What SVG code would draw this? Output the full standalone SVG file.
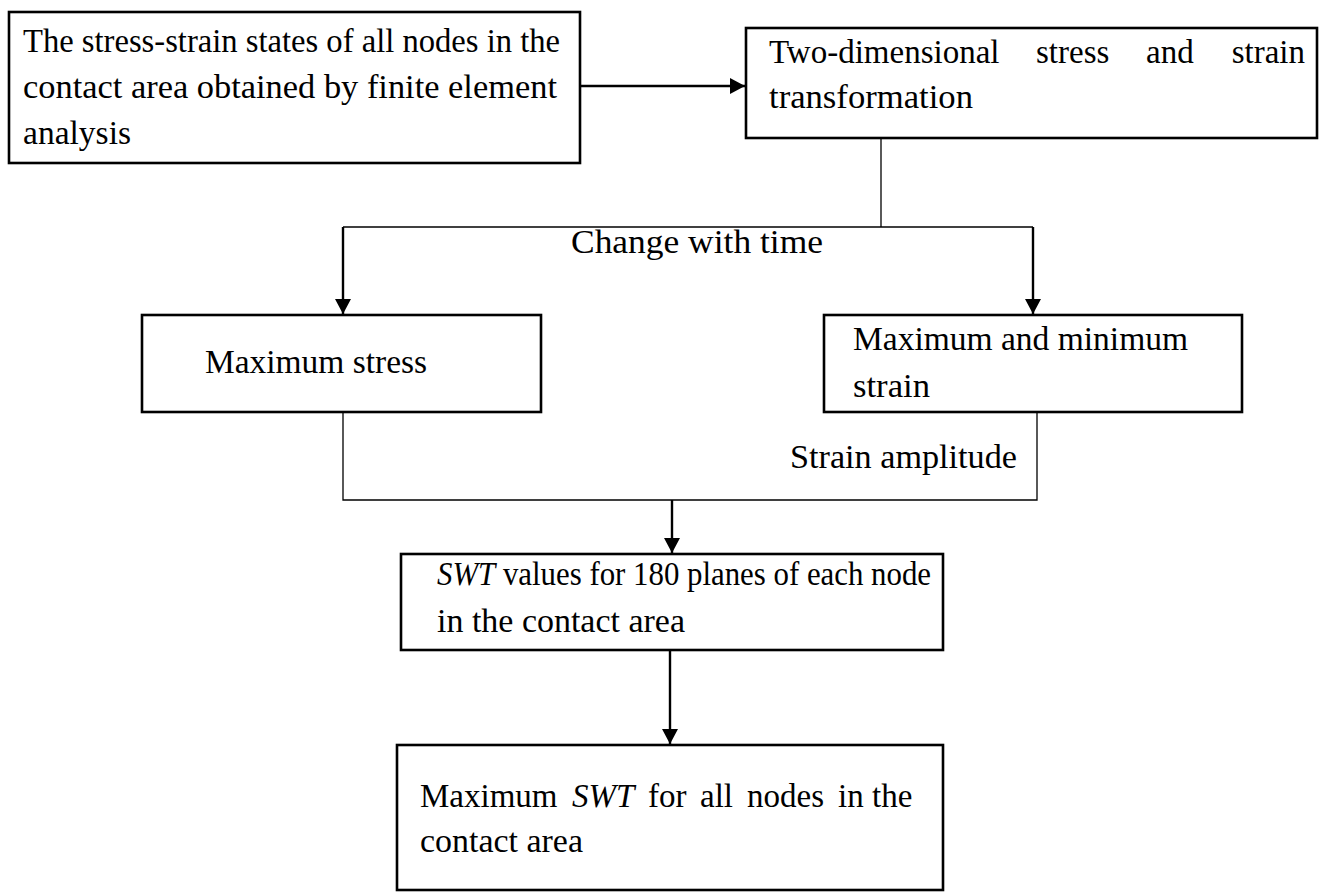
<svg xmlns="http://www.w3.org/2000/svg" width="1320" height="893" viewBox="0 0 1320 893">
<style>
.box{fill:#fff;stroke:#000;stroke-width:2.6}
.t{font-family:"Liberation Serif","Times New Roman",serif;font-size:33px;fill:#000}
.i{font-style:italic}
.thin{fill:none;stroke:#000;stroke-width:1.3}
.thick{fill:none;stroke:#000;stroke-width:2.4}
</style>
<defs>
<marker id="ah" markerUnits="userSpaceOnUse" markerWidth="16" markerHeight="18" refX="15" refY="8" orient="auto">
<path d="M0,0 L15,8 L0,16 z" fill="#000"/>
</marker>
</defs>
<rect width="1320" height="893" fill="#fff"/>
<g id="connectors">
<line class="thick" x1="580" y1="86" x2="745" y2="86" marker-end="url(#ah)"/>
<polyline class="thin" points="881,138 881,227"/>
<polyline class="thin" points="343,227 1033,227"/>
<line class="thick" x1="343" y1="227" x2="343" y2="314" marker-end="url(#ah)"/>
<line class="thick" x1="1033" y1="227" x2="1033" y2="314" marker-end="url(#ah)"/>
<polyline class="thin" points="343,412 343,500 1037,500 1037,412"/>
<line class="thick" x1="672" y1="500" x2="672" y2="553" marker-end="url(#ah)"/>
<line class="thick" x1="670" y1="651" x2="670" y2="744" marker-end="url(#ah)"/>
<text class="t" x="823" y="253" text-anchor="end" textLength="252" lengthAdjust="spacingAndGlyphs">Change with time</text>
<text class="t" x="790" y="468" textLength="227" lengthAdjust="spacingAndGlyphs">Strain amplitude</text>
</g>
<g id="n1">
<rect class="box" x="9" y="12" width="571" height="151"/>
<text class="t" x="23" y="52" textLength="537" lengthAdjust="spacingAndGlyphs">The stress-strain states of all nodes in the</text>
<text class="t" x="23" y="98" textLength="534" lengthAdjust="spacingAndGlyphs">contact area  obtained by  finite element</text>
<text class="t" x="23" y="144" textLength="108" lengthAdjust="spacingAndGlyphs">analysis</text>
</g>
<g id="n2">
<rect class="box" x="746" y="28" width="571" height="110"/>
<text class="t" x="769" y="63">Two-dimensional</text>
<text class="t" x="1036" y="63">stress</text>
<text class="t" x="1146" y="63">and</text>
<text class="t" x="1305" y="63" text-anchor="end">strain</text>
<text class="t" x="769" y="108" textLength="204" lengthAdjust="spacingAndGlyphs">transformation</text>
</g>
<g id="n3">
<rect class="box" x="142" y="315" width="399" height="97"/>
<text class="t" x="205" y="373" textLength="222" lengthAdjust="spacingAndGlyphs">Maximum stress</text>
</g>
<g id="n4">
<rect class="box" x="824" y="315" width="418" height="97"/>
<text class="t" x="853" y="350" textLength="335" lengthAdjust="spacingAndGlyphs">Maximum and minimum</text>
<text class="t" x="853" y="397" textLength="77" lengthAdjust="spacingAndGlyphs">strain</text>
</g>
<g id="n5">
<rect class="box" x="401" y="554" width="542" height="96"/>
<text class="t" x="437" y="585" textLength="494" lengthAdjust="spacingAndGlyphs"><tspan class="i">SWT</tspan> values for 180 planes of each node</text>
<text class="t" x="437" y="632" textLength="248" lengthAdjust="spacingAndGlyphs">in the contact area</text>
</g>
<g id="n6">
<rect class="box" x="397" y="745" width="546" height="145"/>
<text class="t" y="807"><tspan x="420">Maximum</tspan><tspan x="572" class="i">SWT</tspan><tspan x="648">for</tspan><tspan x="700">all</tspan><tspan x="747">nodes</tspan><tspan x="838">in</tspan><tspan x="872">the</tspan></text>
<text class="t" x="420" y="852" textLength="163" lengthAdjust="spacingAndGlyphs">contact area</text>
</g>
</svg>
